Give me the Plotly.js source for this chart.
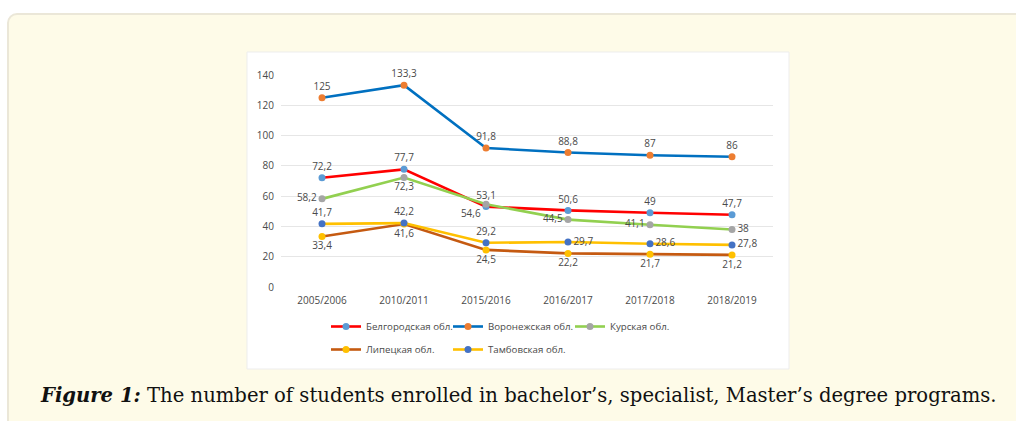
<!DOCTYPE html>
<html>
<head>
<meta charset="utf-8">
<script src="https://cdn.plot.ly/plotly-3.0.1.min.js"></script>
<style>
  html, body { margin: 0; padding: 0; width: 1016px; height: 421px; overflow: hidden; background: #ffffff; }
  #frame { position: absolute; left: 7px; top: 13px; width: 1030px; height: 430px; box-sizing: border-box;
           border: 2px solid #ebe7d8; border-radius: 10px; background: #fefbe8; }
  #chart { position: absolute; left: 0; top: 0; width: 1016px; height: 421px; }
</style>
</head>
<body>
<div id="frame"></div>
<div id="chart"></div>
<script>
// ---- data ----
const categories = ['2005/2006', '2010/2011', '2015/2016', '2016/2017', '2017/2018', '2018/2019'];
const belgorod = [72.2, 77.7, 53.1, 50.6, 49, 47.7];
const voronezh = [125, 133.3, 91.8, 88.8, 87, 86];
const kursk = [58.2, 72.3, 54.6, 44.5, 41.1, 38];
const lipetsk = [33.4, 41.6, 24.5, 22.2, 21.7, 21.2];
const tambov = [41.7, 42.2, 29.2, 29.7, 28.6, 27.8];
const seriesNames = ['Белгородская обл.', 'Воронежская обл.', 'Курская обл.', 'Липецкая обл.', 'Тамбовская обл.'];
const yTicks = [0, 20, 40, 60, 80, 100, 120, 140];
const captionBold = 'Figure 1:';
const captionText = 'The number of students enrolled in bachelor’s, specialist, Master’s degree programs.';

// ---- layout helpers ----
const W = 1016, H = 421;
const PL = 281, PR = 773, PT = 75, PB = 287;
const px = x => (x - PL) / (PR - PL);
const py = y => (PB - y) / (PB - PT);
const fmt = arr => arr.map(v => String(v).replace('.', ','));
const labelFont = { family: 'Open Sans, sans-serif', size: 10, color: '#4a4a4a' };

function series(vals, name, lineColor, markerColor, positions, legend) {
  return {
    type: 'scatter', mode: 'lines+markers+text',
    x: categories, y: vals, name: name,
    text: fmt(vals), textposition: positions, textfont: labelFont,
    line: { color: lineColor, width: 2.6 },
    marker: { color: markerColor, size: 7 },
    cliponaxis: false, legend: legend, hoverinfo: 'x+y+name'
  };
}

const T = 'top center', B = 'bottom center', L = 'middle left', R = 'middle right';
const traces = [
  series(belgorod, seriesNames[0], '#ff0000', '#5b9bd5', [T, T, T, T, T, T], 'legend'),
  series(voronezh, seriesNames[1], '#0070c0', '#ed7d31', [T, T, T, T, T, T], 'legend'),
  series(kursk, seriesNames[2], '#92d050', '#a5a5a5', [L, B, 'bottom left', L, L, R], 'legend'),
  series(lipetsk, seriesNames[3], '#c55a11', '#ffc000', [B, B, B, B, B, B], 'legend2'),
  series(tambov, seriesNames[4], '#ffc000', '#4472c4', [T, T, T, R, R, R], 'legend2')
];

const legendCommon = {
  orientation: 'h', xanchor: 'left', yanchor: 'top',
  font: { family: 'Open Sans, sans-serif', size: 9.7, color: '#4a4a4a' },
  bgcolor: 'rgba(0,0,0,0)', entrywidth: 77, entrywidthmode: 'pixels',
  itemclick: false, itemdoubleclick: false
};

const layout = {
  width: W, height: H,
  margin: { l: PL, r: W - PR, t: PT, b: H - PB, pad: 0 },
  paper_bgcolor: 'rgba(0,0,0,0)', plot_bgcolor: 'rgba(0,0,0,0)',
  showlegend: true,
  legend: Object.assign({}, legendCommon, { x: px(326), y: py(312) }),
  legend2: Object.assign({}, legendCommon, { x: px(326), y: py(335) }),
  xaxis: {
    type: 'category', range: [-0.5, 5.5], showgrid: false, showline: false, zeroline: false,
    ticks: '', tickfont: { family: 'Open Sans, sans-serif', size: 10, color: '#4a4a4a' },
    ticklabelstandoff: 6, fixedrange: true
  },
  yaxis: {
    range: [0, 140], tickvals: yTicks, ticktext: yTicks.map(String),
    showgrid: true, gridcolor: '#e6e6e6', gridwidth: 1, zeroline: false, showline: false,
    ticks: '', tickfont: { family: 'Open Sans, sans-serif', size: 10, color: '#4a4a4a' },
    ticklabelstandoff: 6, fixedrange: true
  },
  shapes: [
    { type: 'rect', xref: 'paper', yref: 'paper', layer: 'below',
      x0: px(247), x1: px(789), y0: py(369), y1: py(52),
      fillcolor: '#ffffff', line: { color: '#ededed', width: 1 } }
  ],
  annotations: [
    { xref: 'paper', yref: 'paper', x: px(518), y: py(395), xanchor: 'center', yanchor: 'middle',
      showarrow: false, text: '<b><i>' + captionBold + '</i></b> ' + captionText,
      font: { family: 'DejaVu Serif, serif', size: 19.6, color: '#111111' } }
  ]
};

Plotly.newPlot('chart', traces, layout, { displayModeBar: false, staticPlot: true });
</script>
</body>
</html>
